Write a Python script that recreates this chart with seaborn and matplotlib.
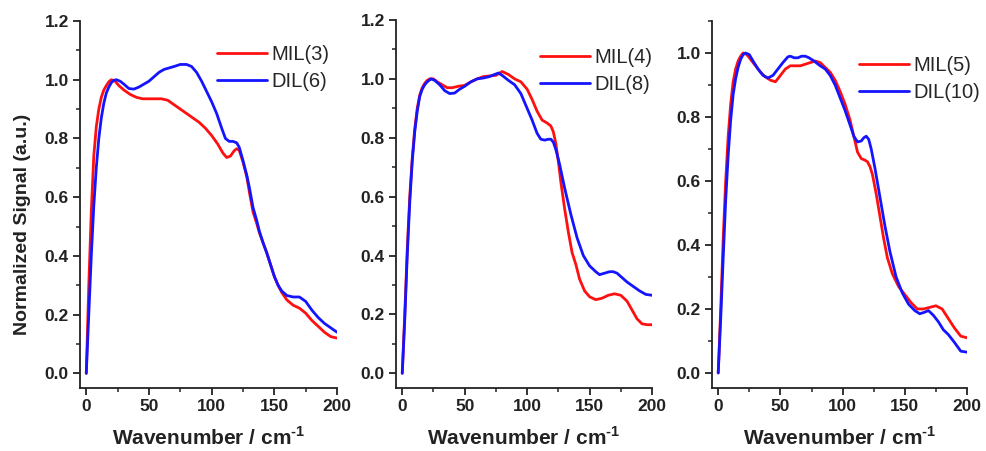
import matplotlib
matplotlib.use("Agg")
import matplotlib.pyplot as plt
from matplotlib.ticker import MultipleLocator
import seaborn as sns
import pandas as pd

# ---------------- data ----------------
x_mil3 = [0, 2, 4, 6, 8, 10, 12, 14, 16, 18, 20, 23, 26, 30, 35, 40, 45, 50, 55, 60, 65, 70, 75, 80, 85, 90, 95, 100,
          105, 109, 112, 115, 118, 120, 122, 125, 128, 130, 133, 136, 138, 141, 144, 147, 150, 153, 156, 160, 165, 170,
          175, 180, 185, 190, 195, 200]
y_mil3 = [0, 0.3, 0.55, 0.74, 0.84, 0.9, 0.94, 0.965, 0.98, 0.993, 1.0, 0.995, 0.98, 0.965, 0.95, 0.94, 0.935, 0.935,
          0.935, 0.935, 0.93, 0.915, 0.9, 0.885, 0.87, 0.855, 0.835, 0.81, 0.78, 0.75, 0.735, 0.74, 0.758, 0.765, 0.76,
          0.72, 0.67, 0.62, 0.55, 0.51, 0.48, 0.445, 0.41, 0.37, 0.33, 0.3, 0.275, 0.25, 0.232, 0.222, 0.205, 0.18,
          0.16, 0.14, 0.125, 0.12]
x_dil6 = [0, 2, 4, 6, 8, 10, 12, 14, 16, 18, 20, 22, 24, 27, 30, 34, 38, 42, 46, 50, 54, 58, 62, 66, 70, 75, 80, 84,
          88, 92, 96, 100, 104, 108, 111, 114, 117, 120, 122, 125, 128, 130, 133, 136, 138, 141, 144, 147, 150, 153,
          156, 160, 165, 170, 175, 180, 185, 190, 195, 200]
y_dil6 = [0, 0.2, 0.4, 0.57, 0.7, 0.8, 0.87, 0.92, 0.955, 0.975, 0.99, 0.998, 1.0, 0.995, 0.985, 0.97, 0.968, 0.975,
          0.985, 0.995, 1.01, 1.025, 1.035, 1.04, 1.045, 1.052, 1.052, 1.045, 1.025, 0.995, 0.96, 0.925, 0.885, 0.835,
          0.8, 0.79, 0.79, 0.785, 0.77, 0.725, 0.675, 0.635, 0.565, 0.52, 0.485, 0.445, 0.41, 0.37, 0.33, 0.3, 0.28,
          0.265, 0.26, 0.26, 0.245, 0.215, 0.19, 0.17, 0.155, 0.14]

x_mil4 = [0, 2, 4, 6, 8, 10, 12, 14, 16, 18, 20, 22, 25, 28, 32, 36, 40, 45, 50, 55, 60, 65, 70, 75, 80, 85, 90, 95,
          100, 104, 108, 112, 116, 119, 121, 123, 125, 127, 130, 133, 136, 139, 142, 146, 150, 155, 160, 165, 170, 175,
          180, 184, 188, 192, 196, 200]
y_mil4 = [0, 0.2, 0.42, 0.6, 0.73, 0.83, 0.9, 0.945, 0.97, 0.985, 0.995, 1.0, 1.0, 0.99, 0.98, 0.97, 0.97, 0.975,
          0.978, 0.99, 1.0, 1.008, 1.01, 1.012, 1.025, 1.015, 1.0, 0.99, 0.965, 0.93, 0.89, 0.86, 0.85, 0.84, 0.82,
          0.78, 0.72, 0.65, 0.56, 0.48, 0.41, 0.37, 0.32, 0.28, 0.26, 0.25, 0.255, 0.265, 0.27, 0.265, 0.245, 0.215,
          0.185, 0.168, 0.165, 0.165]
x_dil8 = [0, 2, 4, 6, 8, 10, 12, 14, 16, 18, 20, 23, 26, 30, 34, 38, 42, 46, 50, 55, 60, 65, 70, 74, 77, 80, 85, 90,
          95, 100, 104, 108, 111, 114, 117, 119, 121, 123, 126, 130, 135, 140, 145, 150, 155, 158, 162, 166, 169, 172,
          176, 180, 185, 190, 195, 200]
y_dil8 = [0, 0.18, 0.4, 0.58, 0.72, 0.82, 0.89, 0.94, 0.965, 0.98, 0.99, 1.0, 0.995, 0.98, 0.96, 0.95, 0.952, 0.965,
          0.975, 0.99, 1.0, 1.003, 1.008, 1.015, 1.02, 1.012, 0.995, 0.98, 0.95, 0.9, 0.86, 0.815, 0.795, 0.792, 0.795,
          0.795, 0.785, 0.76, 0.71, 0.63, 0.54, 0.46, 0.4, 0.365, 0.345, 0.335, 0.34, 0.345, 0.345, 0.34, 0.325, 0.31,
          0.295, 0.28, 0.268, 0.265]

x_mil5 = [0, 2, 4, 6, 8, 10, 12, 14, 16, 18, 20, 23, 26, 30, 34, 38, 42, 46, 50, 54, 58, 62, 66, 70, 74, 78, 82, 86,
          90, 94, 98, 102, 106, 109, 112, 115, 118, 120, 122, 124, 127, 130, 133, 136, 140, 145, 150, 155, 160, 165,
          170, 175, 180, 185, 190, 195, 200]
y_mil5 = [0, 0.2, 0.42, 0.6, 0.74, 0.84, 0.91, 0.95, 0.975, 0.99, 1.0, 0.995, 0.98, 0.96, 0.94, 0.925, 0.915, 0.91,
          0.93, 0.95, 0.96, 0.96, 0.96, 0.965, 0.97, 0.975, 0.97, 0.955, 0.94, 0.915, 0.88, 0.84, 0.79, 0.74, 0.69,
          0.67, 0.665, 0.66, 0.645, 0.62, 0.56, 0.49, 0.42, 0.36, 0.31, 0.27, 0.245, 0.22, 0.2, 0.2, 0.205, 0.21, 0.2,
          0.17, 0.14, 0.115, 0.11]
x_dil10 = [0, 2, 4, 6, 8, 10, 12, 14, 16, 18, 20, 22, 25, 28, 32, 36, 40, 44, 48, 52, 56, 58, 61, 64, 67, 70, 73, 77,
           82, 86, 90, 94, 98, 102, 106, 109, 112, 115, 117, 119, 121, 123, 126, 130, 134, 138, 143, 148, 153, 158,
           162, 166, 169, 173, 177, 181, 185, 190, 195, 200]
y_dil10 = [0, 0.17, 0.36, 0.54, 0.68, 0.79, 0.87, 0.92, 0.955, 0.98, 0.995, 1.0, 0.995, 0.975, 0.95, 0.93, 0.922,
           0.93, 0.95, 0.97, 0.988, 0.99, 0.985, 0.985, 0.99, 0.99, 0.985, 0.975, 0.96, 0.95, 0.93, 0.9, 0.86, 0.82,
           0.775, 0.74, 0.722, 0.725, 0.735, 0.74, 0.73, 0.7, 0.64, 0.55, 0.46, 0.38, 0.3, 0.25, 0.215, 0.195, 0.185,
           0.19, 0.195, 0.18, 0.16, 0.135, 0.12, 0.095, 0.068, 0.065]

labels = [("MIL(3)", "DIL(6)"), ("MIL(4)", "DIL(8)"), ("MIL(5)", "DIL(10)")]
x_ticks = [0, 50, 100, 150, 200]
y_ticks_12 = [0.0, 0.2, 0.4, 0.6, 0.8, 1.0, 1.2]
y_ticks_10 = [0.0, 0.2, 0.4, 0.6, 0.8, 1.0]

# ---------------- style ----------------
sns.set_style("ticks")
plt.rcParams['font.family'] = ['Liberation Sans', 'DejaVu Sans']
plt.rcParams['mathtext.fontset'] = 'custom'
plt.rcParams['mathtext.rm'] = 'Liberation Sans:bold'
plt.rcParams['mathtext.bf'] = 'Liberation Sans:bold'
plt.rcParams['axes.linewidth'] = 1.3
plt.rcParams['axes.edgecolor'] = '#222222'

RED = '#ff1010'
BLUE = '#1414ff'
INK = '#222222'

fig = plt.figure(figsize=(9.87, 4.51), dpi=100)
W, H = 987, 451


def add_axes(l, r, t, b):
    return fig.add_axes([l / W, 1 - b / H, (r - l) / W, (b - t) / H])


panels = [
    dict(box=(80, 337, 21, 388), ylim=(-0.05, 1.2), yt=y_ticks_12,
         red=(x_mil3, y_mil3), blue=(x_dil6, y_dil6), leg=(217, 45)),
    dict(box=(396, 652, 20, 388), ylim=(-0.05, 1.2), yt=y_ticks_12,
         red=(x_mil4, y_mil4), blue=(x_dil8, y_dil8), leg=(540, 48)),
    dict(box=(712, 967, 21, 388), ylim=(-0.047, 1.1), yt=y_ticks_10,
         red=(x_mil5, y_mil5), blue=(x_dil10, y_dil10), leg=(859, 56)),
]

for i, p in enumerate(panels):
    ax = add_axes(*p['box'])
    rl, bl = labels[i]
    df_r = pd.DataFrame({'x': p['red'][0], 'y': p['red'][1]})
    df_b = pd.DataFrame({'x': p['blue'][0], 'y': p['blue'][1]})
    sns.lineplot(data=df_r, x='x', y='y', ax=ax, color=RED, lw=2.0, label=rl, estimator=None, sort=False)
    sns.lineplot(data=df_b, x='x', y='y', ax=ax, color=BLUE, lw=2.0, label=bl, estimator=None, sort=False)
    ax.set_xlim(-5, 200)
    ax.set_ylim(*p['ylim'])
    ax.set_xticks(x_ticks)
    ax.set_yticks(p['yt'])
    ax.set_yticklabels([f"{v:.1f}" for v in p['yt']])
    ax.xaxis.set_minor_locator(MultipleLocator(25))
    ax.yaxis.set_minor_locator(MultipleLocator(0.1))
    ax.tick_params(which='major', direction='out', length=5, width=1.3, labelsize=12.5, pad=3, color=INK)
    ax.tick_params(which='minor', direction='out', length=3, width=1.1, color=INK)
    for lab in ax.get_xticklabels() + ax.get_yticklabels():
        lab.set_fontweight('bold')
        lab.set_color(INK)
    sns.despine(ax=ax)
    for s in ['left', 'bottom']:
        ax.spines[s].set_color(INK)
    ax.set_xlabel("Wavenumber / cm$^{\\text{-1}}$", fontsize=15, fontweight='bold', labelpad=9, color=INK)
    if i == 0:
        ax.set_ylabel("Normalized Signal (a.u.)", fontsize=14, fontweight='bold', color=INK)
        ax.yaxis.set_label_coords(-0.19, 0.445)
    else:
        ax.set_ylabel("")
    lx, ly = p['leg']
    ax.legend(loc='upper left', bbox_to_anchor=(lx / W, 1 - ly / H), bbox_transform=fig.transFigure,
              frameon=False, fontsize=14.5, handlelength=2.5, handletextpad=0.2, labelspacing=0.42,
              borderpad=0, borderaxespad=0)

fig.savefig("out.png", dpi=100)
